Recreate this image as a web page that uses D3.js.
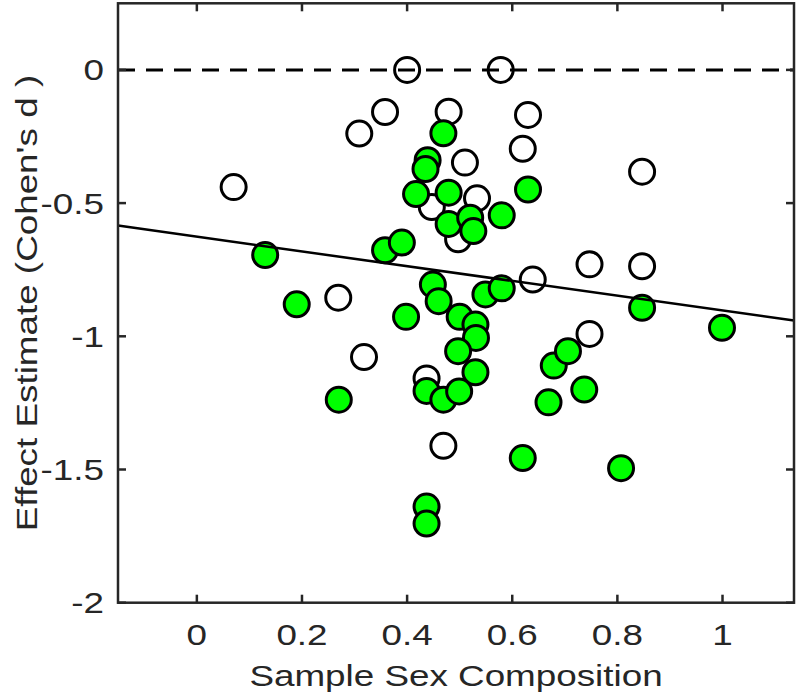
<!DOCTYPE html>
<html>
<head>
<meta charset="utf-8">
<script src="https://cdn.jsdelivr.net/npm/d3@7"></script>
<style>
  html, body { margin: 0; padding: 0; background: #fff; }
  svg { display: block; }
  text { font-family: "Liberation Sans", Arial, sans-serif; fill: #262626; }
</style>
</head>
<body>
<script>
// ---------- data ----------
const openX = [0.40, 0.578, 0.358, 0.309, 0.07, 0.479, 0.63, 0.62, 0.51, 0.847, 0.533, 0.447, 0.497, 0.269, 0.639, 0.747, 0.847, 0.747, 0.318, 0.437, 0.469];
const openY = [0.0, 0.0, -0.158, -0.239, -0.44, -0.157, -0.169, -0.296, -0.348, -0.382, -0.482, -0.515, -0.636, -0.855, -0.787, -0.73, -0.737, -0.991, -1.078, -1.158, -1.411];

const greenX = [0.13, 0.19, 0.27, 0.358, 0.39, 0.398, 0.417, 0.439, 0.435, 0.469, 0.479, 0.479, 0.52, 0.526, 0.58, 0.63, 0.449, 0.46, 0.5, 0.53, 0.531, 0.497, 0.53, 0.549, 0.58, 0.437, 0.469, 0.499, 0.437, 0.437, 0.62, 0.807, 0.669, 0.679, 0.706, 0.737, 0.847, 0.999];
const greenY = [-0.695, -0.88, -1.238, -0.677, -0.648, -0.927, -0.466, -0.339, -0.372, -0.238, -0.461, -0.578, -0.555, -0.605, -0.546, -0.449, -0.806, -0.868, -0.927, -0.956, -1.006, -1.056, -1.135, -0.843, -0.82, -1.205, -1.238, -1.207, -1.639, -1.703, -1.457, -1.495, -1.248, -1.11, -1.056, -1.2, -0.893, -0.968];

const fitIntercept = -0.626;
const fitSlope = -0.277;

const xTicks = [0, 0.2, 0.4, 0.6, 0.8, 1];
const yTicks = [0, -0.5, -1, -1.5, -2];
const xTickLabels = ["0", "0.2", "0.4", "0.6", "0.8", "1"];
const yTickLabels = ["0", "-0.5", "-1", "-1.5", "-2"];
const xDomain = [-0.15, 1.136];
const yDomain = [-2, 0.25];
const xTitle = "Sample Sex Composition";
const yTitle = "Effect Estimate (Cohen's d )";

// ---------- layout ----------
const W = 800, H = 697;
const L = 118, R = 794, T = 3.3, B = 602.7;
const FS = 29, SX = 1.27;
const axisColor = "#262626";

const svg = d3.select("body").append("svg").attr("width", W).attr("height", H);
const x = d3.scaleLinear().domain(xDomain).range([L, R]);
const y = d3.scaleLinear().domain(yDomain).range([B, T]);

// markers: open first, then green
const openData = openX.map((v, i) => ({x: v, y: openY[i]}));
const greenData = greenX.map((v, i) => ({x: v, y: greenY[i]}));

svg.append("g").selectAll("circle").data(openData).join("circle")
  .attr("cx", d => x(d.x)).attr("cy", d => y(d.y)).attr("r", 12.5)
  .attr("fill", "none").attr("stroke", "#000").attr("stroke-width", 3);

svg.append("g").selectAll("circle").data(greenData).join("circle")
  .attr("cx", d => x(d.x)).attr("cy", d => y(d.y)).attr("r", 12.5)
  .attr("fill", "#00ff00").attr("stroke", "#000").attr("stroke-width", 3);

// zero dashed line
svg.append("line")
  .attr("x1", x(xDomain[0])).attr("x2", x(xDomain[1]))
  .attr("y1", y(0)).attr("y2", y(0))
  .attr("stroke", "#000").attr("stroke-width", 3)
  .attr("stroke-dasharray", "17,11");

// regression line
svg.append("line")
  .attr("x1", x(xDomain[0])).attr("y1", y(fitIntercept + fitSlope * xDomain[0]))
  .attr("x2", x(xDomain[1])).attr("y2", y(fitIntercept + fitSlope * xDomain[1]))
  .attr("stroke", "#000").attr("stroke-width", 2.5);

// axes box with inward ticks
const tl = 8;
const ax = svg.append("g").attr("stroke", axisColor).attr("stroke-width", 2.5).attr("fill", "none");
ax.append("rect").attr("x", L).attr("y", T).attr("width", R - L).attr("height", B - T);
xTicks.forEach(t => {
  ax.append("line").attr("x1", x(t)).attr("x2", x(t)).attr("y1", B).attr("y2", B - tl);
  ax.append("line").attr("x1", x(t)).attr("x2", x(t)).attr("y1", T).attr("y2", T + tl);
});
yTicks.forEach(t => {
  ax.append("line").attr("x1", L).attr("x2", L + tl).attr("y1", y(t)).attr("y2", y(t));
  ax.append("line").attr("x1", R).attr("x2", R - tl).attr("y1", y(t)).attr("y2", y(t));
});

// tick labels (widened like the source)
function label(px, py, str, anchor, rot) {
  svg.append("text")
    .attr("transform", `translate(${px},${py})` + (rot ? ` rotate(${rot})` : "") + ` scale(${SX},1)`)
    .attr("text-anchor", anchor)
    .attr("font-size", FS)
    .text(str);
}
xTicks.forEach((t, i) => label(x(t), 644.5, xTickLabels[i], "middle"));
yTicks.forEach((t, i) => label(104, y(t) + FS * 0.36, yTickLabels[i], "end"));

label((L + R) / 2, 686, xTitle, "middle");
label(37, (T + B) / 2, yTitle, "middle", -90);
</script>
</body>
</html>
